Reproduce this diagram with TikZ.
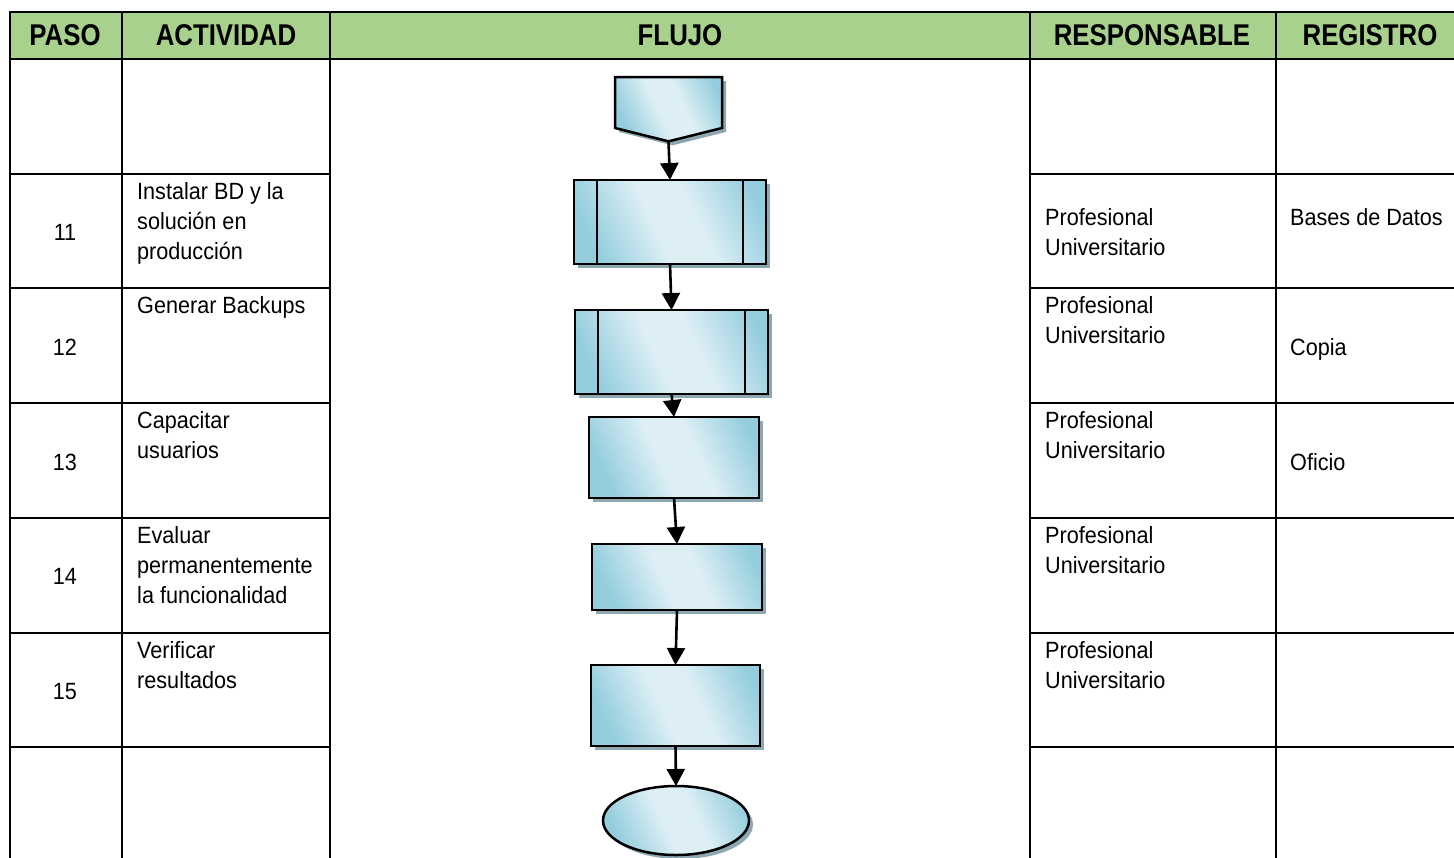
\documentclass[tikz,border=0pt]{standalone}
\usepackage{fontspec}
\setmainfont{Liberation Sans}[FakeStretch=0.92]
\newfontfamily\headfont{Liberation Sans}[FakeStretch=0.86]
\usetikzlibrary{arrows.meta,shapes.geometric,shapes.symbols,shadows}
\definecolor{headGreen}{HTML}{A9D18E}
\definecolor{flowLight}{HTML}{DDEFF5}
\definecolor{flowDark}{HTML}{94CDDD}
\definecolor{flowShadow}{HTML}{8EA8B2}
\pgfdeclarehorizontalshading{flowShade}{100bp}{color(0bp)=(flowDark); color(25bp)=(flowDark); color(45bp)=(flowLight); color(58bp)=(flowLight); color(78bp)=(flowDark); color(100bp)=(flowDark)}
\begin{document}
\begin{tikzpicture}[x=1pt, y=-1pt,
    grid/.style={line width=2.8pt, line cap=rect},
    hdr/.style={anchor=base, inner sep=0pt, font=\headfont\bfseries\fontsize{30}{36}\selectfont},
    num/.style={anchor=base, inner sep=0pt, font=\fontsize{23.5}{30}\selectfont},
    txt/.style={anchor=north west, align=left, inner sep=0pt, font=\fontsize{23.5}{30}\selectfont},
    flowbox/.style={draw, line width=2.5pt, outer sep=0pt, inner sep=0pt, shading=flowShade, shading angle=25,
      drop shadow={shadow xshift=4pt, shadow yshift=-4pt, fill=flowShadow, opacity=1}},
    arr/.style={-{Triangle[length=17pt,width=18pt]}, line width=2.6pt}
  ]
    \useasboundingbox (0,0) rectangle (1454,857);
    % table
    \fill[headGreen] (10,12) rectangle (1454,59);
    \draw[grid] (10,12) -- (1454,12) (10,59) -- (1454,59);
    \foreach \y in {174,288,403,518,633,747}
      \draw[grid] (10,\y) -- (330,\y) (1030,\y) -- (1454,\y);
    \foreach \x in {10,122,330,1030,1276}
      \draw[grid] (\x,12) -- (\x,857);
    % headers
    \node[hdr] (hPaso) at (65,45.5) {PASO};
    \node[hdr] (hAct) at (226,45.5) {ACTIVIDAD};
    \node[hdr] (hFlujo) at (680,45.5) {FLUJO};
    \node[hdr] (hResp) at (1152,45.5) {RESPONSABLE};
    \node[hdr] (hReg) at (1370,45.5) {REGISTRO};
    % steps
    \node[num] (n11) at (65,240) {11};
    \node[num] (n12) at (65,355) {12};
    \node[num] (n13) at (65,470) {13};
    \node[num] (n14) at (65,584) {14};
    \node[num] (n15) at (65,699) {15};
    \node[txt] (a11) at (137,182) {Instalar BD y la\\solución en\\producción};
    \node[txt] (a12) at (137,296) {Generar Backups};
    \node[txt] (a13) at (137,411) {Capacitar\\usuarios};
    \node[txt] (a14) at (137,526) {Evaluar\\permanentemente\\la funcionalidad};
    \node[txt] (a15) at (137,641) {Verificar\\resultados};
    \node[txt] (r11) at (1045,208) {Profesional\\Universitario};
    \node[txt] (r12) at (1045,296) {Profesional\\Universitario};
    \node[txt] (r13) at (1045,411) {Profesional\\Universitario};
    \node[txt] (r14) at (1045,526) {Profesional\\Universitario};
    \node[txt] (r15) at (1045,641) {Profesional\\Universitario};
    \node[txt] (g11) at (1290,208) {Bases de Datos};
    \node[num, anchor=base west] (g12) at (1290,355) {Copia};
    \node[num, anchor=base west] (g13) at (1290,470) {Oficio};
    % flow
    \node[flowbox, signal, signal to=south, signal from=nowhere, signal pointer angle=152,
      minimum width=107pt, minimum height=51pt] (conn) at (668.5,102.5) {};
    \node[flowbox, minimum width=192pt, minimum height=84pt] (pp1) at (670,222) {};
    \node[flowbox, minimum width=193pt, minimum height=84pt] (pp2) at (671.5,352) {};
    \node[flowbox, minimum width=170pt, minimum height=81pt] (r3) at (674,457.5) {};
    \node[flowbox, minimum width=170pt, minimum height=66pt] (r4) at (677,577) {};
    \node[flowbox, minimum width=169pt, minimum height=81pt] (r5) at (675.5,705.5) {};
    \node[flowbox, ellipse, minimum width=146pt, minimum height=69pt] (fin) at (676,820.5) {};
    \foreach \b in {pp1,pp2}
      \draw[line width=2.5pt] ([xshift=23pt]\b.north west) -- ([xshift=23pt]\b.south west)
        ([xshift=-23pt]\b.north east) -- ([xshift=-23pt]\b.south east);
    \draw[arr] (conn.south) -- (pp1.north);
    \draw[arr] (pp1.south) -- (pp2.north);
    \draw[arr] (pp2.south) -- (r3.north);
    \draw[arr] (r3.south) -- (r4.north);
    \draw[arr] (r4.south) -- (r5.north);
    \draw[arr] (r5.south) -- (fin.north);
  \end{tikzpicture}
\end{document}
